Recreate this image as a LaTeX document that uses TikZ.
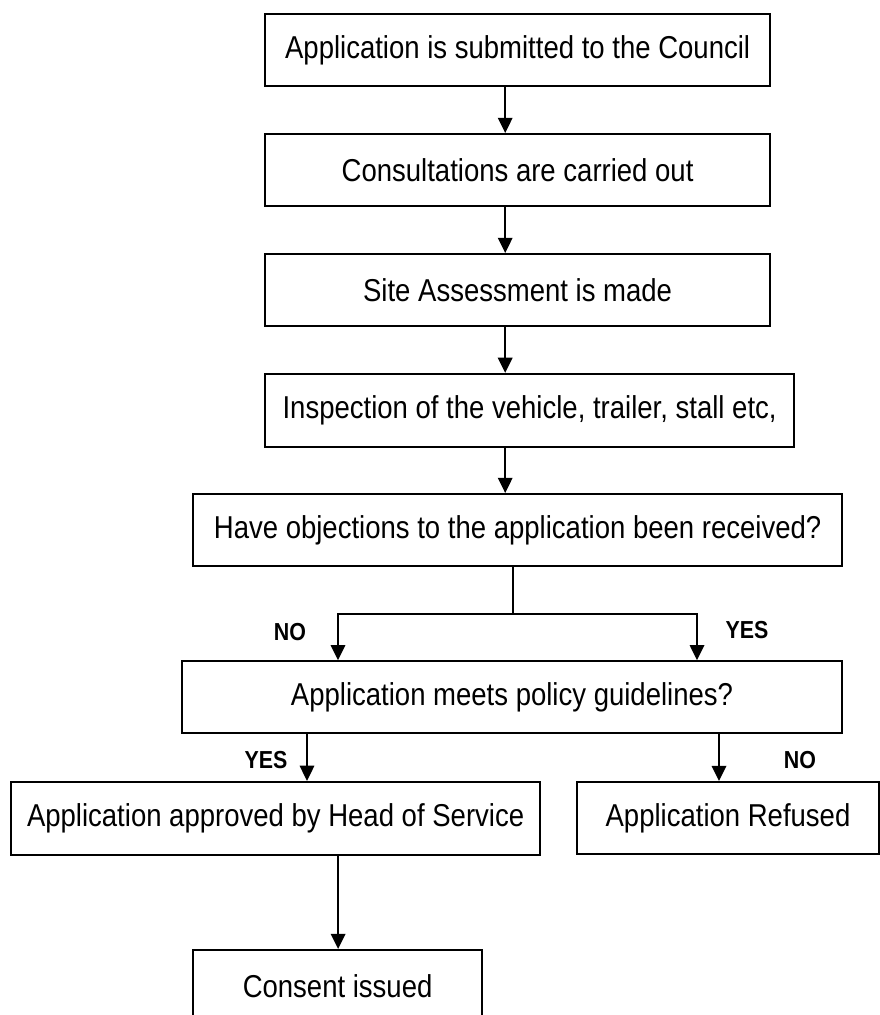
\documentclass[tikz,border=0pt]{standalone}
\usepackage{fontspec}
\setmainfont{Liberation Sans}[FakeStretch=0.87]
\usepackage{tikz}
\usetikzlibrary{positioning, arrows.meta}

\begin{document}
\begin{tikzpicture}[
    box/.style={rectangle, draw, line width=1.4pt, minimum height=1.8cm, align=center, inner sep=0pt, font=\fontsize{22.5}{27}\selectfont},
    arrow/.style={-{Triangle[length=0.38cm, width=0.36cm]}, line width=1.5pt},
    line/.style={line width=1.5pt},
    label/.style={font=\fontsize{17.5}{20}\selectfont\bfseries}
]

\useasboundingbox (0, 0) rectangle (22, -25.375);
\clip (0, 0) rectangle (22, -25.375);

% Main steps
\node[box, minimum width=12.625cm] (submit) at (12.94, -1.25) {Application is submitted to the Council};
\node[box, minimum width=12.625cm] (consult) at (12.94, -4.25) {Consultations are carried out};
\node[box, minimum width=12.625cm] (site) at (12.94, -7.25) {Site Assessment is made};
\node[box, minimum width=13.225cm, minimum height=1.825cm] (inspect) at (13.24, -10.26) {Inspection of the vehicle, trailer, stall etc,};

% Decisions
\node[box, minimum width=16.225cm] (objections) at (12.94, -13.25) {Have objections to the application been received?};
\node[box, minimum width=16.5cm] (policy) at (12.8, -17.43) {Application meets policy guidelines?};

% Outcomes
\node[box, minimum width=13.225cm, minimum height=1.825cm] (approved) at (6.89, -20.46) {Application approved by Head of Service};
\node[box, minimum width=7.55cm] (refused) at (18.2, -20.45) {Application Refused};
\node[box, minimum width=7.225cm] (consent) at (8.44, -24.65) {Consent issued};

% Spine and split point
\coordinate (spine) at (12.63, 0);
\coordinate (split) at (12.825, -15.35);

% Arrows - main steps
\draw[arrow] (submit.south -| spine) -- (consult.north -| spine);
\draw[arrow] (consult.south -| spine) -- (site.north -| spine);
\draw[arrow] (site.south -| spine) -- (inspect.north -| spine);
\draw[arrow] (inspect.south -| spine) -- (objections.north -| spine);

% Objections split
\draw[line] (objections.south -| split) -- (split);
\draw[arrow] (split) -| ([xshift=-4.35cm]policy.north);
\draw[arrow] (split) -| ([xshift=4.625cm]policy.north);

% Policy outcomes
\draw[arrow] ([xshift=-5.125cm]policy.south) -- ([xshift=-5.125cm]policy.south |- approved.north);
\draw[arrow] ([xshift=5.175cm]policy.south) -- ([xshift=5.175cm]policy.south |- refused.north);
\draw[arrow] ([xshift=1.5625cm]approved.south) -- ([xshift=1.5625cm]approved.south |- consent.north);

% Labels
\node[label] (no1) at (7.25, -15.8) {NO};
\node[label] (yes1) at (18.675, -15.75) {YES};
\node[label] (yes2) at (6.65, -19.0) {YES};
\node[label] (no2) at (20.0, -19.0) {NO};

\end{tikzpicture}
\end{document}
